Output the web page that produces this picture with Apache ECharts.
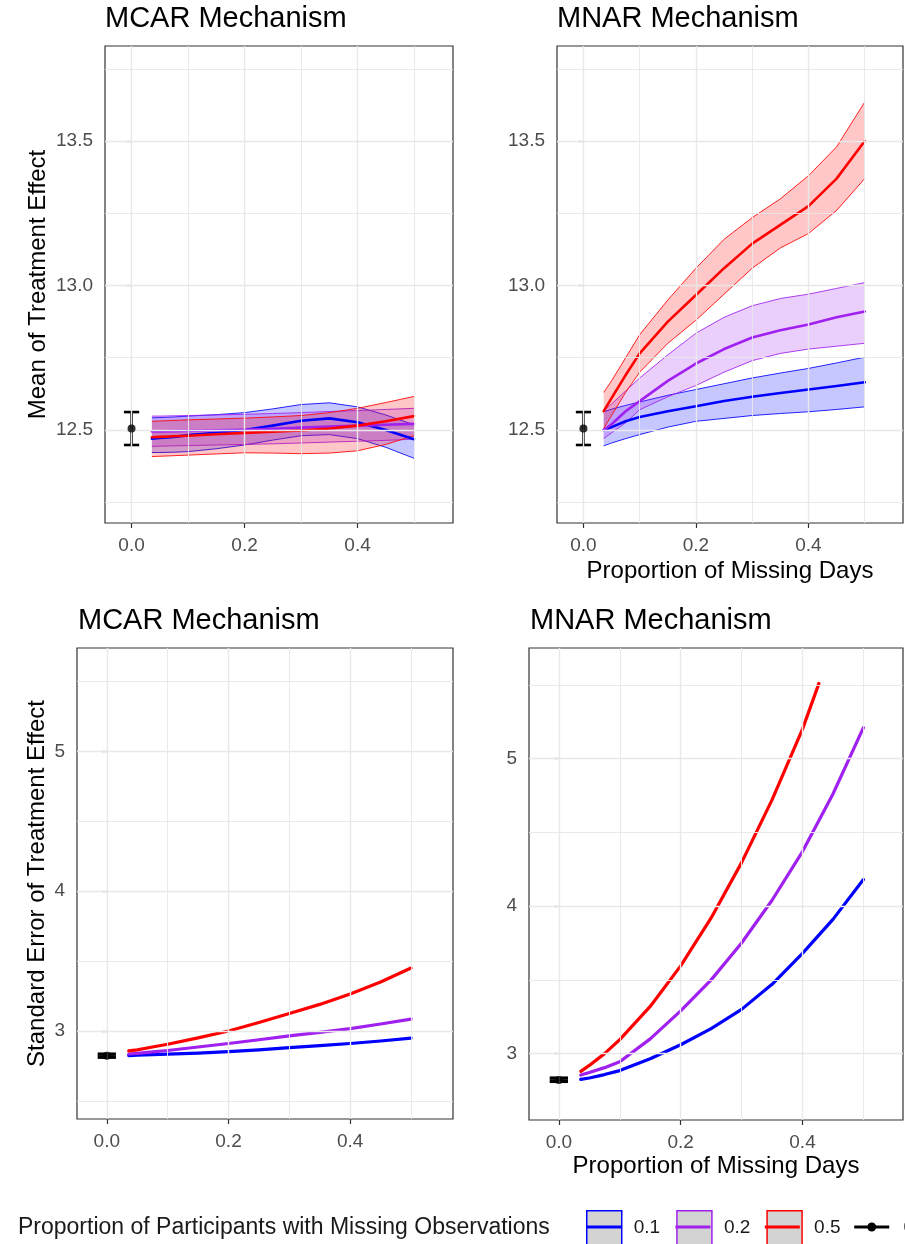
<!DOCTYPE html>
<html><head><meta charset="utf-8">
<script src="https://cdn.jsdelivr.net/npm/echarts@6/dist/echarts.min.js"></script>
<style>html,body{margin:0;padding:0;background:#fff}#c{width:905px;height:1244px}</style>
</head><body><div id="c"></div>
<script>
// ---------- DATA ----------
const levels = ['0.1', '0.2', '0.5'];
const errLabel = '0';
const panelTitles = ['MCAR Mechanism', 'MNAR Mechanism', 'MCAR Mechanism', 'MNAR Mechanism'];
const yTitleMean = 'Mean of Treatment Effect';
const yTitleSE = 'Standard Error of Treatment Effect';
const xTitle = 'Proportion of Missing Days';
const legendTitle = 'Proportion of Participants with Missing Observations';

const xTicks = [0, 0.2, 0.4];
const yTicksMean = [12.5, 13.0, 13.5];
const yTicksSE = [3, 4, 5];

const xProp = [0.036, 0.05, 0.075, 0.1, 0.15, 0.2, 0.25, 0.3, 0.35, 0.4, 0.45, 0.5];
const xPropShort = [0.036, 0.05, 0.075, 0.1, 0.15, 0.2, 0.25, 0.3, 0.35, 0.4, 0.427];

// MCAR mean of treatment effect (with ribbons)
const mcarMean01 = [12.470, 12.472, 12.476, 12.482, 12.490, 12.500, 12.515, 12.532, 12.540, 12.527, 12.500, 12.468];
const mcarHigh01 = [12.542, 12.543, 12.545, 12.548, 12.553, 12.560, 12.573, 12.588, 12.594, 12.580, 12.552, 12.518];
const mcarLow01  = [12.422, 12.422, 12.423, 12.425, 12.435, 12.448, 12.465, 12.480, 12.484, 12.470, 12.440, 12.402];
const mcarMean02 = [12.495, 12.495, 12.496, 12.497, 12.499, 12.501, 12.504, 12.508, 12.512, 12.515, 12.518, 12.521];
const mcarHigh02 = [12.548, 12.548, 12.549, 12.550, 12.552, 12.554, 12.557, 12.560, 12.564, 12.567, 12.571, 12.575];
const mcarLow02  = [12.443, 12.444, 12.445, 12.446, 12.448, 12.450, 12.452, 12.455, 12.458, 12.461, 12.464, 12.468];
const mcarMean05 = [12.475, 12.476, 12.478, 12.480, 12.485, 12.490, 12.494, 12.498, 12.505, 12.515, 12.530, 12.548];
const mcarHigh05 = [12.530, 12.531, 12.533, 12.535, 12.538, 12.541, 12.545, 12.550, 12.560, 12.575, 12.595, 12.616];
const mcarLow05  = [12.408, 12.409, 12.411, 12.413, 12.417, 12.421, 12.420, 12.418, 12.420, 12.428, 12.450, 12.480];

// MNAR mean of treatment effect (with ribbons)
const mnarMean01 = [12.500, 12.510, 12.530, 12.545, 12.565, 12.582, 12.600, 12.615, 12.628, 12.640, 12.652, 12.665];
const mnarHigh01 = [12.563, 12.572, 12.585, 12.597, 12.620, 12.640, 12.660, 12.680, 12.697, 12.713, 12.732, 12.752];
const mnarLow01  = [12.445, 12.455, 12.470, 12.484, 12.510, 12.530, 12.540, 12.550, 12.557, 12.563, 12.571, 12.580];
const mnarMean02 = [12.500, 12.520, 12.565, 12.600, 12.670, 12.730, 12.780, 12.820, 12.845, 12.865, 12.890, 12.910];
const mnarHigh02 = [12.565, 12.590, 12.635, 12.680, 12.760, 12.835, 12.890, 12.930, 12.955, 12.970, 12.990, 13.010];
const mnarLow02  = [12.470, 12.490, 12.525, 12.570, 12.615, 12.654, 12.700, 12.740, 12.765, 12.780, 12.790, 12.800];
const mnarMean05 = [12.565, 12.610, 12.690, 12.765, 12.875, 12.967, 13.060, 13.145, 13.210, 13.275, 13.370, 13.500];
const mnarHigh05 = [12.630, 12.670, 12.750, 12.830, 12.950, 13.060, 13.160, 13.235, 13.300, 13.380, 13.480, 13.635];
const mnarLow05  = [12.505, 12.550, 12.630, 12.700, 12.800, 12.880, 12.970, 13.060, 13.130, 13.180, 13.260, 13.370];

// Standard error of treatment effect
const mcarSE01 = [2.824, 2.826, 2.830, 2.834, 2.842, 2.852, 2.865, 2.880, 2.895, 2.910, 2.928, 2.948];
const mcarSE02 = [2.835, 2.840, 2.850, 2.860, 2.885, 2.910, 2.937, 2.965, 2.990, 3.017, 3.050, 3.085];
const mcarSE05 = [2.857, 2.865, 2.885, 2.905, 2.950, 3.000, 3.060, 3.125, 3.190, 3.265, 3.350, 3.450];
const mnarSE01 = [2.825, 2.835, 2.858, 2.885, 2.965, 3.060, 3.170, 3.300, 3.470, 3.680, 3.910, 4.180];
const mnarSE02 = [2.855, 2.872, 2.905, 2.945, 3.100, 3.290, 3.500, 3.750, 4.040, 4.370, 4.760, 5.210];
const mnarSE05 = [2.880, 2.920, 3.000, 3.095, 3.320, 3.595, 3.920, 4.295, 4.720, 5.200, 5.510];

// Complete-data reference (x = 0): mean, lower, upper
const refX = [0];
const refMean = [12.505, 12.448, 12.562];
const refSE = [2.822, 2.812, 2.834];

// ---------- STYLE ----------
const colors = ['#0000FF', '#A020F0', '#FF0000'];
const fills = ['rgba(0,0,255,0.22)', 'rgba(160,32,240,0.22)', 'rgba(255,0,0,0.22)'];
const FONT = '"Liberation Sans", Arial, sans-serif';
const gridBox = [
  {left: 105, top: 46, width: 348, height: 477},
  {left: 557, top: 46, width: 346, height: 477},
  {left: 77, top: 648, width: 376, height: 471},
  {left: 529, top: 648, width: 374, height: 472}
];
const xRanges = [[-0.047, 0.569], [-0.047, 0.568], [-0.049, 0.569], [-0.049, 0.565]];
const yRanges = [[12.178, 13.829], [12.178, 13.829], [2.37, 5.74], [2.55, 5.75]];
const xMinor = [0.1, 0.3, 0.5];
const yMinorMean = [12.25, 12.75, 13.25, 13.75];
const yMinorSE = [2.5, 3.5, 4.5, 5.5];

const grids = gridBox.map(b => Object.assign({show: true, borderColor: '#333333', borderWidth: 1.2,
  backgroundColor: '#fff', containLabel: false, outerBoundsMode: 'none'}, b));

const xAxes = xRanges.map((r, i) => ({
  type: 'value', gridIndex: i, min: r[0], max: r[1],
  name: (i === 1 || i === 3) ? xTitle : '', nameLocation: 'middle', nameGap: i === 1 ? 36 : 34,
  nameTextStyle: {fontSize: 24, color: '#000', fontFamily: FONT},
  axisLine: {show: false}, splitLine: {show: false},
  axisTick: {show: true, length: 5, customValues: xTicks, lineStyle: {color: '#333', width: 1.2}},
  axisLabel: {customValues: xTicks, formatter: v => Number(v).toFixed(1), fontSize: 19, color: '#4d4d4d', margin: 13, fontFamily: FONT}
}));
const yAxes = yRanges.map((r, i) => {
  const ticks = i < 2 ? yTicksMean : yTicksSE;
  return {
    type: 'value', gridIndex: i, min: r[0], max: r[1],
    name: i === 0 ? yTitleMean : (i === 2 ? yTitleSE : ''), nameLocation: 'middle', nameGap: i === 0 ? 55 : 28,
    nameTextStyle: {fontSize: 24, color: '#000', fontFamily: FONT},
    axisLine: {show: false}, splitLine: {show: false},
    axisTick: {show: true, length: 5, customValues: ticks, lineStyle: {color: '#333', width: 1.2}},
    axisLabel: {customValues: ticks, formatter: v => i < 2 ? Number(v).toFixed(1) : String(Math.round(v)),
      fontSize: 19, color: '#4d4d4d', margin: 12, fontFamily: FONT}
  };
});

const series = [];
// grid lines through the axes' scales
for (let g = 0; g < 4; g++) {
  const yMaj = g < 2 ? yTicksMean : yTicksSE;
  const yMin = g < 2 ? yMinorMean : yMinorSE;
  const ml = [];
  xTicks.forEach(v => ml.push({xAxis: v, lineStyle: {width: 1.4}}));
  xMinor.forEach(v => ml.push({xAxis: v, lineStyle: {width: 0.9}}));
  yMaj.forEach(v => ml.push({yAxis: v, lineStyle: {width: 1.4}}));
  yMin.forEach(v => ml.push({yAxis: v, lineStyle: {width: 0.9}}));
  series.push({type: 'line', name: 'grid' + g, xAxisIndex: g, yAxisIndex: g, data: [], z: 1, silent: true,
    markLine: {silent: true, symbol: 'none', label: {show: false}, animation: false,
      lineStyle: {color: '#e8e8e8', type: 'solid'}, data: ml}});
}

function pairs(xs, ys) { return xs.map((x, i) => [x, ys[i]]); }

function addBand(g, k, low, high) {
  series.push({type: 'custom', name: levels[k] + ' band', xAxisIndex: g, yAxisIndex: g, z: 2, silent: true, clip: true,
    data: xProp.map((x, i) => [x, low[i], high[i]]), encode: {x: 0, y: [1, 2]},
    renderItem: (params, api) => {
      if (params.dataIndex !== 0) return null;
      const up = xProp.map((x, i) => api.coord([x, high[i]]));
      const lo = xProp.map((x, i) => api.coord([x, low[i]]));
      const poly = up.concat(lo.slice().reverse());
      return {type: 'group', children: [
        {type: 'polygon', shape: {points: poly}, style: {fill: fills[k], stroke: null}},
        {type: 'polyline', shape: {points: up}, style: {fill: null, stroke: colors[k], lineWidth: 1, opacity: 0.85}},
        {type: 'polyline', shape: {points: lo}, style: {fill: null, stroke: colors[k], lineWidth: 1, opacity: 0.85}}
      ]};
    }});
}
function addLine(g, k, xs, ys, w) {
  series.push({type: 'line', name: levels[k], xAxisIndex: g, yAxisIndex: g, data: pairs(xs, ys),
    symbol: 'none', smooth: false, z: 3, silent: true,
    lineStyle: {color: colors[k], width: w, join: 'round', cap: 'round'}, itemStyle: {color: colors[k]}});
}
function addRef(g, ref, capHalf, lw) {
  series.push({type: 'custom', name: errLabel, xAxisIndex: g, yAxisIndex: g, z: 4, silent: true,
    data: [[refX[0], ref[0], ref[1], ref[2]]], encode: {x: 0, y: [1, 2, 3]},
    renderItem: (params, api) => {
      const x = api.value(0), lo = api.value(2), hi = api.value(3);
      const pLo = api.coord([x, lo]), pHi = api.coord([x, hi]);
      const cL = api.coord([x - capHalf, lo]), cR = api.coord([x + capHalf, lo]);
      const st = {stroke: '#000', lineWidth: lw};
      return {type: 'group', children: [
        {type: 'line', shape: {x1: pLo[0], y1: pLo[1], x2: pHi[0], y2: pHi[1]}, style: st},
        {type: 'line', shape: {x1: cL[0], y1: pLo[1], x2: cR[0], y2: pLo[1]}, style: st},
        {type: 'line', shape: {x1: cL[0], y1: pHi[1], x2: cR[0], y2: pHi[1]}, style: st}
      ]};
    }});
  series.push({type: 'scatter', name: errLabel, xAxisIndex: g, yAxisIndex: g, z: 5, silent: true,
    data: [[refX[0], ref[0]]], symbol: 'circle', symbolSize: 8, itemStyle: {color: '#000'}});
}

// top-left MCAR
addBand(0, 0, mcarLow01, mcarHigh01);
addBand(0, 1, mcarLow02, mcarHigh02);
addBand(0, 2, mcarLow05, mcarHigh05);
addLine(0, 0, xProp, mcarMean01, 2.6);
addLine(0, 1, xProp, mcarMean02, 2.6);
addLine(0, 2, xProp, mcarMean05, 2.6);
addRef(0, refMean, 0.0135, 2.6);
// top-right MNAR
addBand(1, 0, mnarLow01, mnarHigh01);
addBand(1, 1, mnarLow02, mnarHigh02);
addBand(1, 2, mnarLow05, mnarHigh05);
addLine(1, 0, xProp, mnarMean01, 2.6);
addLine(1, 1, xProp, mnarMean02, 2.6);
addLine(1, 2, xProp, mnarMean05, 2.6);
addRef(1, refMean, 0.0135, 2.6);
// bottom-left MCAR SE
addLine(2, 0, xProp, mcarSE01, 3.2);
addLine(2, 1, xProp, mcarSE02, 3.2);
addLine(2, 2, xProp, mcarSE05, 3.2);
addRef(2, refSE, 0.015, 3.4);
// bottom-right MNAR SE
addLine(3, 0, xProp, mnarSE01, 3.2);
addLine(3, 1, xProp, mnarSE02, 3.2);
addLine(3, 2, xPropShort, mnarSE05, 3.2);
addRef(3, refSE, 0.015, 3.4);

const titlePos = [[105, 4], [557, 4], [78, 606], [530, 606]];
const titles = panelTitles.map((t, i) => ({text: t, left: titlePos[i][0], top: titlePos[i][1], padding: 0,
  textStyle: {fontSize: 29, fontWeight: 'normal', color: '#000', fontFamily: FONT}}));
titles.push({text: legendTitle, left: 18, top: 1216, padding: 0,
  textStyle: {fontSize: 23, fontWeight: 'normal', color: '#1a1a1a', fontFamily: FONT}});

const linePath = 'path://M0,0L0.01,0M0,15.5L35,15.5L35,18.5L0,18.5ZM35,34L34.99,34';
const errPath = 'path://M0,0L0.01,0M0,15.6L35,15.6L35,18.4L0,18.4ZM13,17A4.5,4.5,0,1,1,22,17A4.5,4.5,0,1,1,13,17ZM35,34L34.99,34';
const legendCommon = {left: 586, top: 1210, padding: 0, orient: 'horizontal', width: 420,
  itemWidth: 35, itemHeight: 34, itemGap: 16, selectedMode: false};
const legendA = Object.assign({}, legendCommon, {
  textStyle: {fontSize: 19, color: '#1a1a1a', fontFamily: FONT, padding: [0, 0, 0, 7]},
  data: levels.map((n, k) => ({name: n, icon: 'rect',
    itemStyle: {color: '#d3d3d3', borderColor: colors[k], borderWidth: 1.5, opacity: 1}}))
    .concat([{name: errLabel, icon: 'rect', itemStyle: {color: 'rgba(0,0,0,0)', borderWidth: 0}}])
});
const legendB = Object.assign({}, legendCommon, {
  textStyle: {fontSize: 19, color: 'rgba(0,0,0,0)', fontFamily: FONT, padding: [0, 0, 0, 7]},
  data: levels.map((n, k) => ({name: n, icon: linePath, itemStyle: {color: colors[k], borderWidth: 0}}))
    .concat([{name: errLabel, icon: errPath, itemStyle: {color: '#000', borderWidth: 0}}])
});

const chart = echarts.init(document.getElementById('c'), null, {renderer: 'canvas'});
chart.setOption({
  animation: false,
  backgroundColor: '#fff',
  textStyle: {fontFamily: FONT},
  title: titles,
  legend: [legendA, legendB],
  grid: grids,
  xAxis: xAxes,
  yAxis: yAxes,
  series: series
});
</script></body></html>
